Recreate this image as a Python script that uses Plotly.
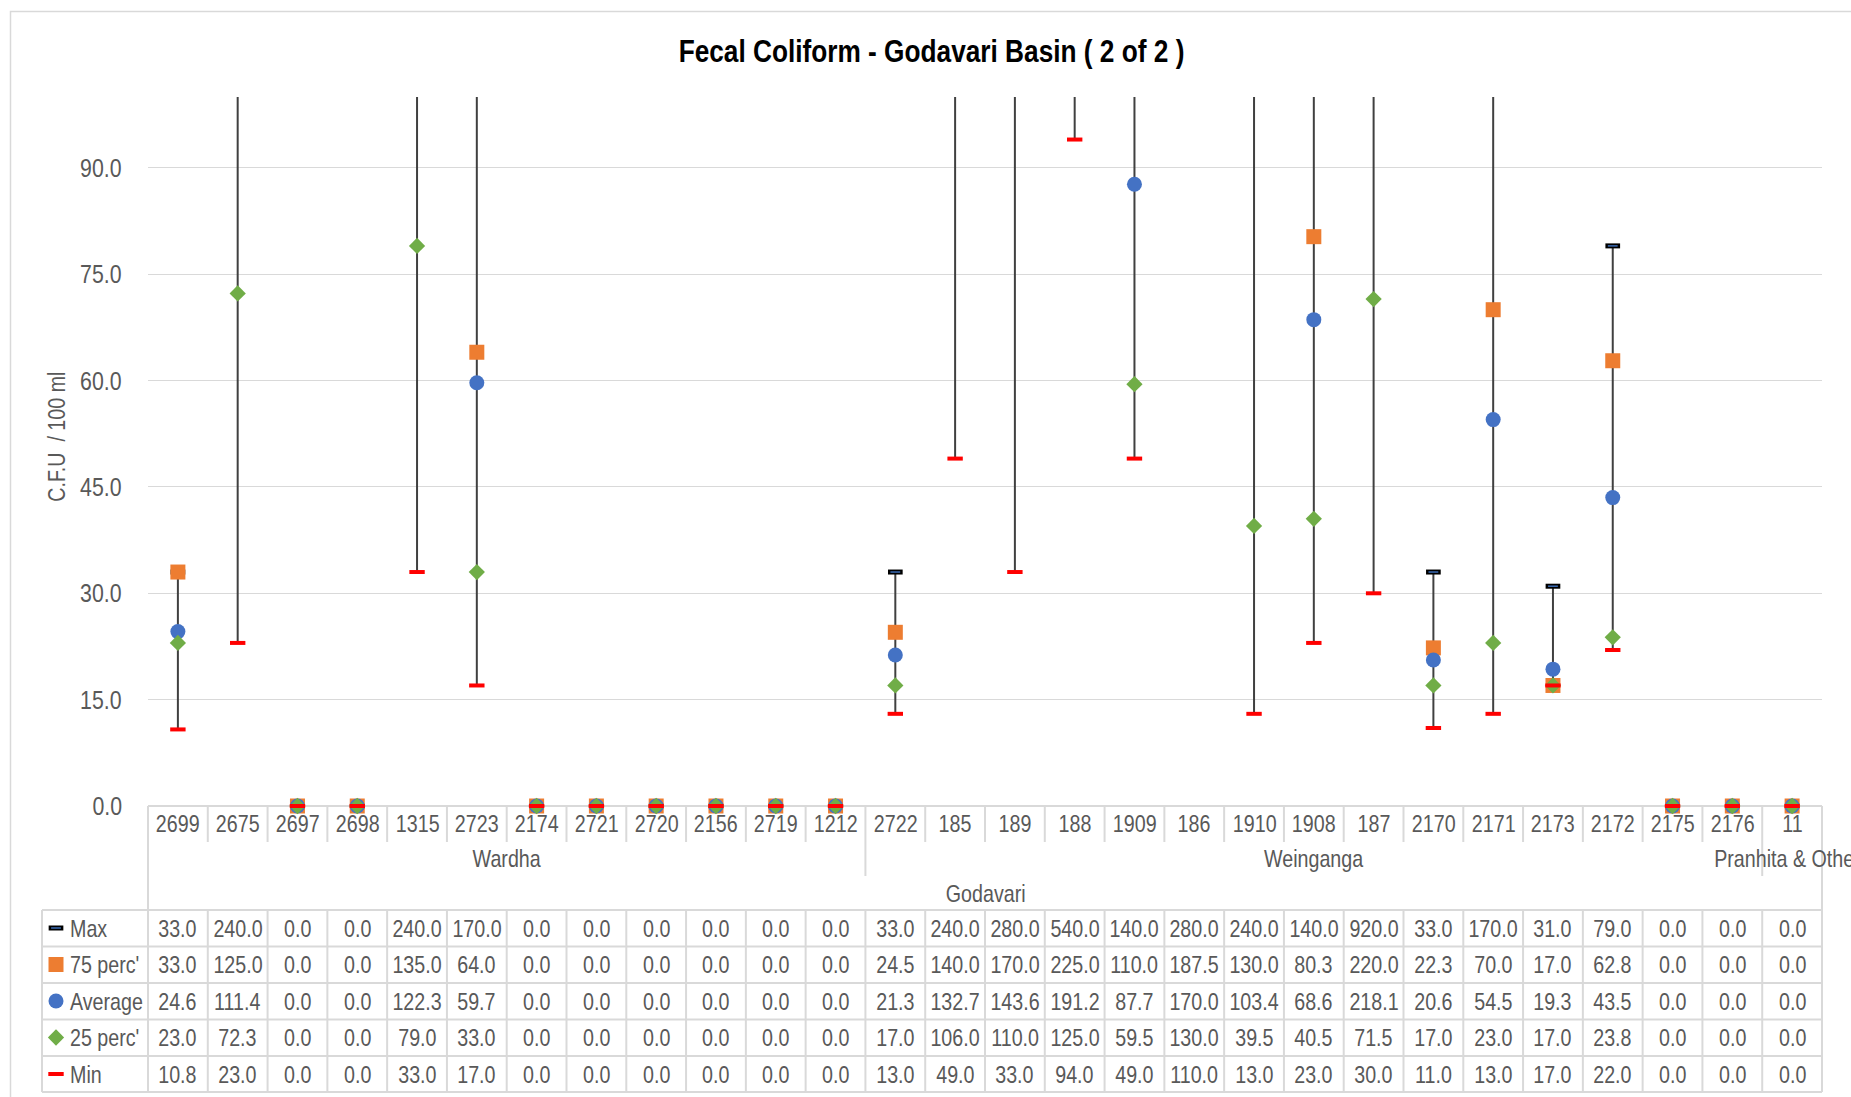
import plotly.graph_objects as go

# ---- data -------------------------------------------------------------
stations = ["2699", "2675", "2697", "2698", "1315", "2723", "2174", "2721", "2720",
            "2156", "2719", "1212", "2722", "185", "189", "188", "1909", "186",
            "1910", "1908", "187", "2170", "2171", "2173", "2172", "2175", "2176", "11"]

max_vals = [33.0, 240.0, 0.0, 0.0, 240.0, 170.0, 0.0, 0.0, 0.0, 0.0, 0.0, 0.0,
            33.0, 240.0, 280.0, 540.0, 140.0, 280.0, 240.0, 140.0, 920.0, 33.0,
            170.0, 31.0, 79.0, 0.0, 0.0, 0.0]
p75_vals = [33.0, 125.0, 0.0, 0.0, 135.0, 64.0, 0.0, 0.0, 0.0, 0.0, 0.0, 0.0,
            24.5, 140.0, 170.0, 225.0, 110.0, 187.5, 130.0, 80.3, 220.0, 22.3,
            70.0, 17.0, 62.8, 0.0, 0.0, 0.0]
avg_vals = [24.6, 111.4, 0.0, 0.0, 122.3, 59.7, 0.0, 0.0, 0.0, 0.0, 0.0, 0.0,
            21.3, 132.7, 143.6, 191.2, 87.7, 170.0, 103.4, 68.6, 218.1, 20.6,
            54.5, 19.3, 43.5, 0.0, 0.0, 0.0]
p25_vals = [23.0, 72.3, 0.0, 0.0, 79.0, 33.0, 0.0, 0.0, 0.0, 0.0, 0.0, 0.0,
            17.0, 106.0, 110.0, 125.0, 59.5, 130.0, 39.5, 40.5, 71.5, 17.0,
            23.0, 17.0, 23.8, 0.0, 0.0, 0.0]
min_vals = [10.8, 23.0, 0.0, 0.0, 33.0, 17.0, 0.0, 0.0, 0.0, 0.0, 0.0, 0.0,
            13.0, 49.0, 33.0, 94.0, 49.0, 110.0, 13.0, 23.0, 30.0, 11.0,
            13.0, 17.0, 22.0, 0.0, 0.0, 0.0]

# (name, first station index, last station index)
sub_basins = [("Wardha", 0, 11), ("Weinganga", 12, 26), ("Pranhita & Others", 27, 27)]
basin = ("Godavari", 0, 27)

y_ticks = [0, 15, 30, 45, 60, 75, 90]
Y_MAX = 100

title_text = "Fecal Coliform - Godavari Basin ( 2 of 2 )"
y_title = "C.F.U  / 100 ml"

# ---- styling ------------------------------------------------------------
W, H = 1851, 1097
X0, X1 = 148, 1822          # plot area, pixels
YB, YT = 806, 97
GRID = "#D9D9D9"
TXT = "#595959"
FONT = "Liberation Sans, Arial, sans-serif"

C_MAX, C_MAX_IN = "#000000", "#3A6BB5"
C_P75, C_AVG, C_P25, C_MIN = "#ED7D31", "#4472C4", "#70AD47", "#FF0000"

n = len(stations)
xs = list(range(n))
CW = (X1 - X0) / n


def fx(p):
    return p / W


def fy(p):
    return 1 - p / H


def shown(vals):
    # points above the axis ceiling are not drawn
    return [v if v <= Y_MAX else None for v in vals]


series = [
    ("Max", max_vals),
    ("75 perc'", p75_vals),
    ("Average", avg_vals),
    ("25 perc'", p25_vals),
    ("Min", min_vals),
]

fig = go.Figure()

# high-low lines from Min to Max
lx, ly = [], []
for i in xs:
    if max_vals[i] > min_vals[i]:
        lx += [i, i, None]
        ly += [min_vals[i], max_vals[i], None]
fig.add_trace(go.Scatter(x=lx, y=ly, mode="lines", line=dict(color="#404040", width=2),
                         cliponaxis=True, hoverinfo="skip", showlegend=False))


def marker_style(kind):
    # line-ew dashes are drawn 1.4x their nominal size
    if kind == "max":
        return [dict(symbol="line-ew", size=10.5, color=C_MAX, line=dict(color=C_MAX, width=5)),
                dict(symbol="line-ew", size=7, color=C_MAX_IN, line=dict(color=C_MAX_IN, width=1.5))]
    if kind == "p75":
        return [dict(symbol="square", size=15, color=C_P75, line=dict(width=0))]
    if kind == "avg":
        return [dict(symbol="circle", size=15, color=C_AVG, line=dict(width=0))]
    if kind == "p25":
        return [dict(symbol="diamond", size=12.5, color=C_P25, line=dict(width=0))]
    return [dict(symbol="line-ew", size=11, color=C_MIN, line=dict(color=C_MIN, width=4))]


kinds = ["max", "p75", "avg", "p25", "min"]
for (name, vals), kind in zip(series, kinds):
    for m in marker_style(kind):
        fig.add_trace(go.Scatter(x=xs, y=shown(vals), mode="markers", marker=m, name=name,
                                 cliponaxis=False, showlegend=False, hoverinfo="x+y"))

# legend keys drawn inside the data table (pixel-space helper axes)
row_y = [928, 964.5, 1001, 1037.5, 1074]
for (name, vals), kind, ry in zip(series, kinds, row_y):
    for m in marker_style(kind):
        fig.add_trace(go.Scatter(x=[56], y=[ry], mode="markers", marker=m, xaxis="x2", yaxis="y2",
                                 cliponaxis=False, showlegend=False, hoverinfo="skip"))

shapes = []
ann = []


def hline(y, xa, xb, width=2):
    shapes.append(dict(type="line", xref="paper", yref="paper", x0=fx(xa), x1=fx(xb),
                       y0=fy(y), y1=fy(y), line=dict(color=GRID, width=width), layer="below"))


def vline(x, ya, yb, width=2):
    shapes.append(dict(type="line", xref="paper", yref="paper", x0=fx(x), x1=fx(x),
                       y0=fy(ya), y1=fy(yb), line=dict(color=GRID, width=width), layer="below"))


# chart frame
shapes.append(dict(type="rect", xref="paper", yref="paper", x0=fx(10.5), x1=fx(W + 20),
                   y0=fy(11.5), y1=fy(H + 20), line=dict(color=GRID, width=1.5), layer="below"))

# category axis + data table grid
hline(YB, X0, X1)
table_rows = [910, 946.5, 983, 1019.5, 1056, 1092]
for y in table_rows:
    hline(y, 42, X1)
vline(42, table_rows[0], table_rows[-1])
group_edges = {s for _, s, _ in sub_basins} | {e + 1 for _, _, e in sub_basins}
for k in range(n + 1):
    x = X0 + k * CW
    if k in (0, n):
        vline(x, YB, table_rows[-1])
    elif k in group_edges:
        vline(x, YB, 876)
        vline(x, table_rows[0], table_rows[-1])
    else:
        vline(x, YB, 842)
        vline(x, table_rows[0], table_rows[-1])

tfont = dict(family=FONT, size=24, color=TXT)


def narrow(**kw):
    # annotations tagged "narrow" are condensed horizontally after rendering
    kw.setdefault("showarrow", False)
    kw.setdefault("yanchor", "middle")
    kw["name"] = "narrow"
    ann.append(kw)


# y-axis tick labels
for t in y_ticks:
    narrow(x=fx(124), xref="paper", y=t, yref="y", text=f"{t:.1f}", xanchor="right",
           font=dict(family=FONT, size=26, color=TXT))

for i, s in enumerate(stations):
    narrow(x=i, xref="x", y=fy(823), yref="paper", text=s, font=tfont, xanchor="center")
for name, a, b in sub_basins:
    narrow(x=(a + b) / 2, xref="x", y=fy(858), yref="paper", text=name, font=tfont, xanchor="center")
narrow(x=(basin[1] + basin[2]) / 2, xref="x", y=fy(893), yref="paper", text=basin[0],
       font=tfont, xanchor="center")

for (name, vals), ry in zip(series, row_y):
    narrow(x=fx(68), xref="paper", y=fy(ry), yref="paper", text=name, font=tfont, xanchor="left")
    for i, v in enumerate(vals):
        narrow(x=i, xref="x", y=fy(ry), yref="paper", text=f"{v:.1f}", font=tfont, xanchor="center")

narrow(x=fx(931), xref="paper", y=fy(51), yref="paper", text=f"<b>{title_text}</b>",
       font=dict(family=FONT, size=32, color="#000000"), xanchor="center")
narrow(x=fx(57), xref="paper", y=fy(437), yref="paper", text=y_title, textangle=-90,
       font=dict(family=FONT, size=24, color=TXT), xanchor="center")

fig.update_layout(
    width=W, height=H,
    margin=dict(l=0, r=0, t=0, b=0, pad=0),
    paper_bgcolor="white", plot_bgcolor="rgba(0,0,0,0)",
    showlegend=False,
    xaxis=dict(domain=[fx(X0), fx(X1)], range=[-0.5, n - 0.5], showgrid=False, zeroline=False,
               showticklabels=False, showline=False, fixedrange=True),
    yaxis=dict(domain=[fy(YB), fy(YT)], range=[0, Y_MAX], tickvals=y_ticks,
               showgrid=True, gridcolor=GRID, gridwidth=1.3, showticklabels=False,
               zeroline=False, showline=False, automargin=False, fixedrange=True),
    xaxis2=dict(domain=[0, 1], range=[0, W], visible=False, anchor="y2", fixedrange=True),
    yaxis2=dict(domain=[0, 1], range=[H, 0], visible=False, anchor="x2", fixedrange=True),
    shapes=shapes,
    annotations=ann,
)

# condense the tagged labels to a narrow face (scaleX about their anchor side)
condense_js = """
var gd = document.getElementById('{plot_id}');
var anns = gd.layout.annotations || [];
gd.querySelectorAll('g.annotation').forEach(function (g) {
    var a = anns[+g.getAttribute('data-index')];
    if (!a || a.name !== 'narrow') return;
    var t = g.querySelector('text.annotation-text');
    if (!t) return;
    var origin = a.xanchor === 'left' ? 'left center' :
                 (a.xanchor === 'right' ? 'right center' : 'center');
    t.style.transformBox = 'fill-box';
    t.style.transformOrigin = origin;
    t.style.transform = 'scaleX(0.82)';
});
"""

fig.write_html("out.html", post_script=condense_js)
